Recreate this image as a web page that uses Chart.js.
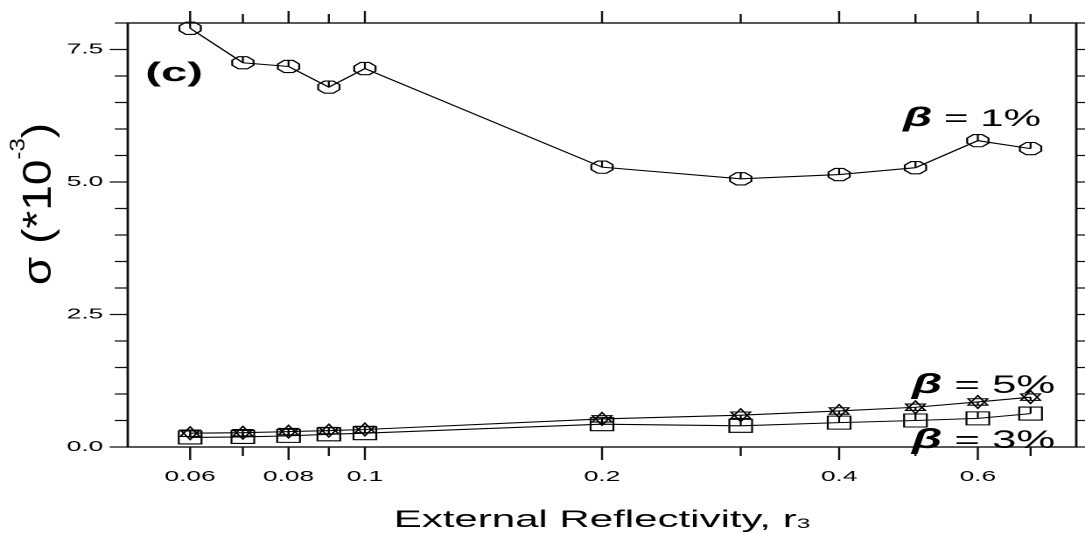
<!DOCTYPE html>
<html>
<head>
<meta charset="utf-8">
<title>sigma vs external reflectivity</title>
<script src="https://cdn.jsdelivr.net/npm/chart.js@4.4.0/dist/chart.umd.min.js"></script>
<style>
  html, body { margin: 0; padding: 0; background: #fff; overflow: hidden; }
  /* the plot is laid out narrow and stretched sideways, like the wide glyphs of the old plotter output */
  #wrap { width: 620px; height: 533px; transform: scaleX(1.75); transform-origin: 0 0; }
</style>
</head>
<body>
<div id="wrap"><canvas id="sigma" width="620" height="533"></canvas></div>
<script>
const reflectivity = [0.06, 0.07, 0.08, 0.09, 0.1, 0.2, 0.3, 0.4, 0.5, 0.6, 0.7];
const sigmaBeta1 = [7.90, 7.25, 7.18, 6.79, 7.14, 5.28, 5.06, 5.14, 5.27, 5.78, 5.63];
const sigmaBeta5 = [0.26, 0.27, 0.29, 0.31, 0.33, 0.53, 0.60, 0.68, 0.75, 0.85, 0.94];
const sigmaBeta3 = [0.18, 0.19, 0.21, 0.24, 0.26, 0.43, 0.40, 0.46, 0.50, 0.54, 0.63];

const xTickValues = [0.06, 0.07, 0.08, 0.09, 0.1, 0.2, 0.3, 0.4, 0.5, 0.6, 0.7];
const xTickLabels = ['0.06', '', '0.08', '', '0.1', '0.2', '', '0.4', '', '0.6', ''];
const yTickValues = [0, 2.5, 5, 7.5];
const yTickLabels = ['0.0', '2.5', '5.0', '7.5'];
const yMinorStep = 0.5;

const FONT = "'Liberation Sans', Arial, sans-serif";

const points = ys => reflectivity.map((r, i) => ({ x: r, y: ys[i] }));

// open markers, each with a short spoke from the centre
const shapes = {
  octagon(ctx, x, y) {
    const r = 6.6;
    ctx.beginPath();
    for (let k = 0; k < 8; k++) {
      const a = Math.PI / 8 + k * Math.PI / 4;
      const px = x + r * Math.cos(a), py = y + r * Math.sin(a);
      if (k) ctx.lineTo(px, py); else ctx.moveTo(px, py);
    }
    ctx.closePath();
    ctx.moveTo(x, y);
    ctx.lineTo(x, y - r * Math.cos(Math.PI / 8));
    ctx.stroke();
  },
  square(ctx, x, y) {
    const h = 6.5;
    ctx.beginPath();
    ctx.rect(x - h, y - h, 2 * h, 2 * h);
    ctx.moveTo(x, y);
    ctx.lineTo(x, y - h);
    ctx.stroke();
  },
  hexagram(ctx, x, y) {
    const r = 6.4;
    ctx.beginPath();
    [-90, 90].forEach(start => {
      for (let k = 0; k < 3; k++) {
        const a = (start + k * 120) * Math.PI / 180;
        const px = x + r * Math.cos(a), py = y + r * Math.sin(a);
        if (k) ctx.lineTo(px, py); else ctx.moveTo(px, py);
      }
      ctx.closePath();
    });
    ctx.moveTo(x, y);
    ctx.lineTo(x, y + r * 0.5);
    ctx.stroke();
  }
};

const markers = {
  id: 'markers',
  afterDatasetsDraw(chart) {
    const ctx = chart.ctx;
    chart.data.datasets.forEach((ds, i) => {
      ctx.save();
      ctx.strokeStyle = '#000';
      ctx.lineWidth = 1.1;
      chart.getDatasetMeta(i).data.forEach(pt => shapes[ds.marker](ctx, pt.x, pt.y));
      ctx.restore();
    });
  }
};

// box around the plot with outward ticks on all four sides
const frame = {
  id: 'frame',
  afterDraw(chart) {
    const { ctx, chartArea: a, scales: { x, y } } = chart;
    ctx.save();
    ctx.strokeStyle = '#111';
    ctx.lineWidth = 1.4;
    ctx.strokeRect(a.left, a.top, a.right - a.left, a.bottom - a.top);
    ctx.lineWidth = 1.2;
    ctx.beginPath();
    xTickValues.forEach((v, i) => {
      const px = x.getPixelForValue(v);
      const major = xTickLabels[i] !== '';
      ctx.moveTo(px, a.bottom);
      ctx.lineTo(px, a.bottom + (major ? 13 : 9));
      ctx.moveTo(px, a.top);
      ctx.lineTo(px, a.top - (major ? 12 : 9));
    });
    for (let v = 0; v <= y.max + 1e-9; v += yMinorStep) {
      const py = y.getPixelForValue(v);
      const len = yTickValues.includes(v) ? 10.3 : 7.4;
      ctx.moveTo(a.left, py);
      ctx.lineTo(a.left - len, py);
      ctx.moveTo(a.right, py);
      ctx.lineTo(a.right + len, py);
    }
    ctx.stroke();
    ctx.restore();
  }
};

// runs of text in mixed fonts, e.g. sub/superscripts
function runWidth(ctx, parts) {
  return parts.reduce((w, p) => { ctx.font = p.font; return w + ctx.measureText(p.t).width; }, 0);
}
function drawRun(ctx, parts, x, y) {
  parts.forEach(p => {
    ctx.font = p.font;
    ctx.fillText(p.t, x, y + (p.dy || 0));
    x += ctx.measureText(p.t).width;
  });
}

const labels = {
  id: 'labels',
  afterDraw(chart) {
    const { ctx, chartArea: a } = chart;
    ctx.save();
    ctx.fillStyle = '#000';
    ctx.textBaseline = 'alphabetic';
    ctx.textAlign = 'left';

    // x title
    const xt = [
      { t: 'External Reflectivity, r', font: `24px ${FONT}` },
      { t: '3', font: `14px ${FONT}`, dy: 1 }
    ];
    drawRun(ctx, xt, (a.left + a.right) / 2 - runWidth(ctx, xt) / 2, 527);

    // y title, rotated
    const yt = [
      { t: '\u03c3 (*10', font: `23px ${FONT}` },
      { t: '-3', font: `12px ${FONT}`, dy: -15 },
      { t: ')', font: `23px ${FONT}` }
    ];
    ctx.save();
    ctx.translate(29, (a.top + a.bottom) / 2 - 31);
    ctx.rotate(-Math.PI / 2);
    ctx.scale(2.0, 1);
    drawRun(ctx, yt, -runWidth(ctx, yt) / 2, 0);
    ctx.restore();

    // panel tag
    ctx.font = `bold 27px ${FONT}`;
    ctx.fillText('(c)', a.left + 10, 81);

    // series names next to their curves
    const beta = (txt, size, px, py) => drawRun(ctx, [
      { t: '\u03b2', font: `italic bold ${size + 3}px ${FONT}` },
      { t: txt, font: `${size}px ${FONT}` }
    ], px, py);
    beta(' = 1%', 24, 516, 126);
    beta(' = 5%', 25, 521, 393);
    beta(' = 3%', 25, 521, 448);
    ctx.restore();
  }
};

const tickFont = { family: FONT, size: 15 };

new Chart(document.getElementById('sigma'), {
  type: 'line',
  data: {
    datasets: [
      { label: '\u03b2 = 1%', data: points(sigmaBeta1), marker: 'octagon' },
      { label: '\u03b2 = 5%', data: points(sigmaBeta5), marker: 'hexagram' },
      { label: '\u03b2 = 3%', data: points(sigmaBeta3), marker: 'square' }
    ].map(ds => Object.assign(ds, {
      borderColor: '#000', borderWidth: 1.1, pointRadius: 0, fill: false, tension: 0
    }))
  },
  options: {
    responsive: false,
    animation: false,
    devicePixelRatio: 2,
    layout: { padding: { top: 22, right: 5, left: 0, bottom: 0 } },
    plugins: { legend: { display: false }, tooltip: { enabled: false } },
    scales: {
      x: {
        type: 'logarithmic',
        min: 0.05,
        max: 0.8,
        grid: { display: false, drawTicks: false, tickLength: 0 },
        border: { display: false },
        afterBuildTicks: s => { s.ticks = xTickValues.map(v => ({ value: v })); },
        afterFit: s => { s.height = 86; },
        ticks: {
          autoSkip: false, maxRotation: 0, minRotation: 0, padding: 21,
          color: '#000', font: tickFont,
          callback: (v, i) => xTickLabels[i]
        }
      },
      y: {
        min: 0,
        max: 8,
        grid: { display: false, drawTicks: false, tickLength: 0 },
        border: { display: false },
        afterBuildTicks: s => { s.ticks = yTickValues.map(v => ({ value: v })); },
        afterFit: s => { s.width = 73; },
        ticks: {
          padding: 14, color: '#000', font: tickFont,
          callback: (v, i) => yTickLabels[i]
        }
      }
    }
  },
  plugins: [markers, frame, labels]
});
</script>
</body>
</html>
